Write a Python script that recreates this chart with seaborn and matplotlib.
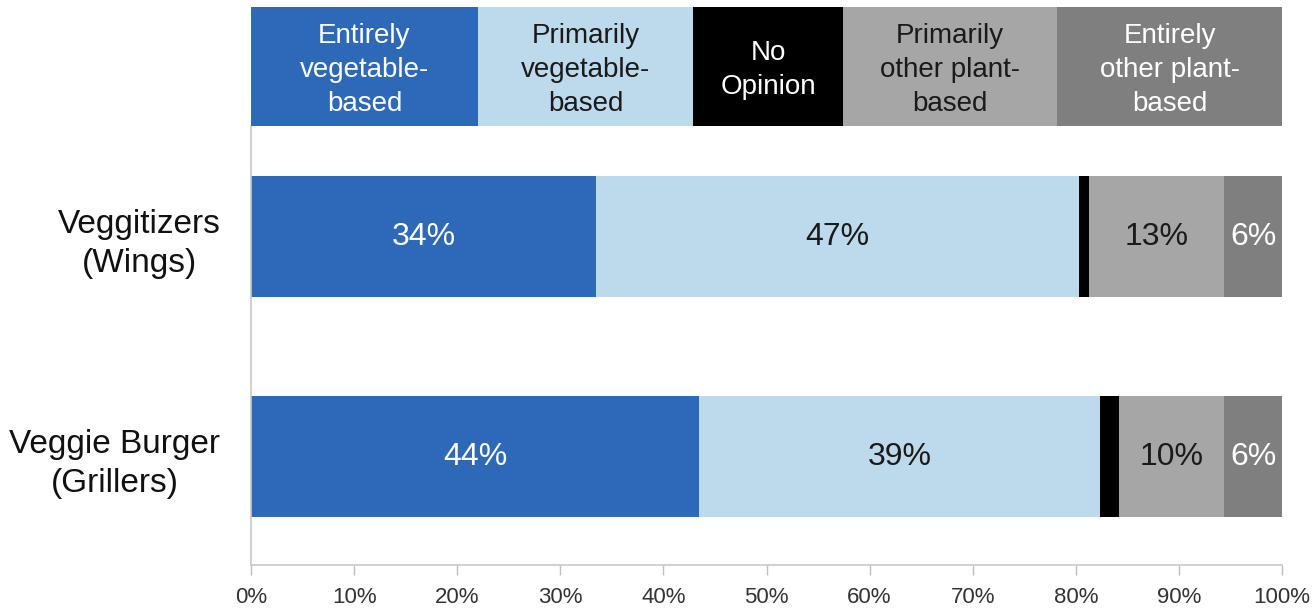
import numpy as np
import pandas as pd
import matplotlib
matplotlib.use("Agg")
import matplotlib.pyplot as plt
import seaborn as sns

# ---- data ----
products = ["Veggitizers\n(Wings)", "Veggie Burger\n(Grillers)"]
segments = ["Entirely vegetable-based", "Primarily vegetable-based", "No Opinion",
            "Primarily other plant-based", "Entirely other plant-based"]
entirely_veg = [33.5, 43.5]
primarily_veg = [46.8, 38.8]
no_opinion = [1.0, 1.9]
primarily_other = [13.1, 10.2]
entirely_other = [5.6, 5.6]
value_labels = [["34%", "47%", "", "13%", "6%"],
                ["44%", "39%", "", "10%", "6%"]]
header_labels = ["Entirely\nvegetable-\nbased", "Primarily\nvegetable-\nbased", "No\nOpinion",
                 "Primarily\nother plant-\nbased", "Entirely\nother plant-\nbased"]
header_widths = [22.0, 20.9, 14.5, 20.8, 21.8]
xticks = list(range(0, 101, 10))

colors = ["#2D69B6", "#BCDAEB", "#000000", "#A6A6A6", "#7F7F7F"]
text_colors = ["white", "#1a1a1a", "white", "#1a1a1a", "white"]

sns.set_theme(style="white")
plt.rcParams["font.family"] = ["Liberation Sans", "DejaVu Sans"]

fig = plt.figure(figsize=(13.15, 6.13), dpi=100)
W, H = 1315, 613
ax = fig.add_axes([251 / W, (H - 565) / H, 1031 / W, (565 - 126) / H])
hax = fig.add_axes([251 / W, (H - 126) / H, 1031 / W, (126 - 7) / H])

series = [entirely_veg, primarily_veg, no_opinion, primarily_other, entirely_other]
vals = np.array(series).T  # rows: products
cum = np.cumsum(vals, axis=1)

# main stacked bars (draw cumulative from largest to smallest)
for k in range(len(segments) - 1, -1, -1):
    df = pd.DataFrame({"product": products, "value": cum[:, k]})
    sns.barplot(data=df, x="value", y="product", color=colors[k], saturation=1,
                width=0.55, orient="h", errorbar=None, linewidth=0, ax=ax)

for i in range(len(products)):
    starts = np.concatenate([[0], cum[i, :-1]])
    for k in range(len(segments)):
        lab = value_labels[i][k]
        if lab:
            ax.text(starts[k] + vals[i, k] / 2, i, lab, ha="center", va="center",
                    fontsize=23, color=text_colors[k])

ax.set_xlim(0, 100)
ax.set_ylim(1.491, -0.5045)
ax.set_xticks(xticks)
ax.set_xticklabels([f"{t}%" for t in xticks], fontsize=16, color="#333333")
ax.set_xlabel("")
ax.set_ylabel("")
for lab in ax.get_yticklabels():
    lab.set_fontsize(24)
    lab.set_multialignment("center")
    lab.set_linespacing(1.3)
    lab.set_color("#111111")
ax.tick_params(axis="y", length=0, pad=22)
ax.tick_params(axis="x", direction="out", length=7, width=1, color="#BFBFBF", pad=9,
               bottom=True)
for s in ["top", "right"]:
    ax.spines[s].set_visible(False)
for s in ["left", "bottom"]:
    ax.spines[s].set_color("#C8C8C8")
    ax.spines[s].set_linewidth(1.2)

# header (legend row)
hcum = np.cumsum(header_widths)
for k in range(len(segments) - 1, -1, -1):
    hdf = pd.DataFrame({"row": ["h"], "value": [hcum[k]]})
    sns.barplot(data=hdf, x="value", y="row", color=colors[k], saturation=1,
                width=1.0, orient="h", errorbar=None, linewidth=0, ax=hax)
hstarts = np.concatenate([[0], hcum[:-1]])
for k in range(len(segments)):
    hax.text(hstarts[k] + header_widths[k] / 2, 0.03, header_labels[k], ha="center",
             va="center", fontsize=20, color=text_colors[k], linespacing=1.42)
hax.set_xlim(0, 100)
hax.set_ylim(0.5, -0.5)
hax.axis("off")

fig.savefig("out.png", dpi=100)
